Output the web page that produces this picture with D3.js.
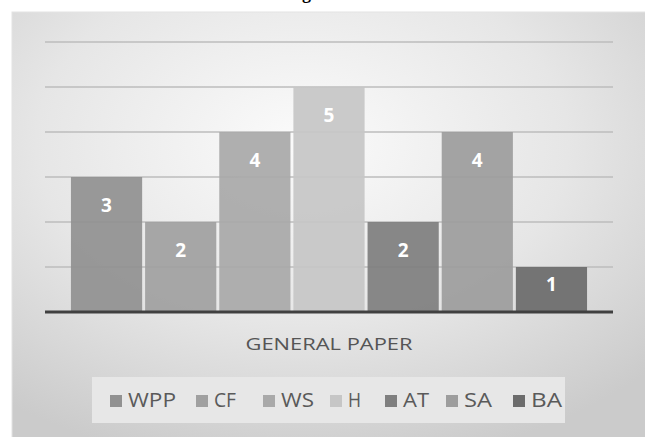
<!DOCTYPE html>
<html>
<head>
<meta charset="utf-8">
<script src="https://cdn.jsdelivr.net/npm/d3@7"></script>
<style>
  body { margin: 0; background: #fff; }
  svg { display: block; }
</style>
</head>
<body>
<script>
const width = 645,
      height = 437

// data
const categories = ['WPP', 'CF', 'WS', 'H', 'AT', 'SA', 'BA']
const values = [3, 2, 4, 5, 2, 4, 1]
const barColors = ['#919191', '#a0a0a0', '#a9a9a9', '#c6c6c6', '#7f7f7f', '#9d9d9d', '#6c6c6c']
const yTicks = [1, 2, 3, 4, 5, 6]
const axisTitle = 'GENERAL PAPER'

const svg = d3.select('body').append('svg')
    .attr('width', width)
    .attr('height', height)

const defs = svg.append('defs')
const grad = defs.append('radialGradient')
    .attr('id', 'bg')
    .attr('cx', '45%').attr('cy', '30%').attr('r', '75%')
grad.append('stop').attr('offset', '0%').attr('stop-color', '#fbfbfb')
grad.append('stop').attr('offset', '55%').attr('stop-color', '#e6e6e6')
grad.append('stop').attr('offset', '100%').attr('stop-color', '#cbcbcb')

// caption above the frame, cut off by the page edge as in the picture
svg.append('text')
    .attr('x', 286)
    .attr('y', -1)
    .text('Fig. 6')
    .style('font-family', 'Liberation Serif')
    .style('font-weight', 'bold')
    .style('font-size', '18px')
    .style('fill', '#000')

// chart frame
svg.append('rect')
    .attr('x', 12)
    .attr('y', 12)
    .attr('width', width)
    .attr('height', height)
    .style('fill', 'url(#bg)')
    .style('stroke', '#e4e4e4')

const x = d3.scaleBand()
    .domain(categories)
    .range([45, 613])
    .paddingInner(0.04)
    .paddingOuter(0.35)

const y = d3.scaleLinear()
    .domain([0, 6])
    .range([312, 42])

// gridlines
svg.selectAll('.grid')
    .data(yTicks)
    .enter()
    .append('line')
        .attr('class', 'grid')
        .attr('x1', 45)
        .attr('x2', 613)
        .attr('y1', d => y(d))
        .attr('y2', d => y(d))
        .style('stroke', '#bdbdbd')
        .style('stroke-width', 1.5)

// bars
svg.selectAll('.bar')
    .data(values)
    .enter()
    .append('rect')
        .attr('class', 'bar')
        .attr('x', (d, i) => x(categories[i]))
        .attr('y', d => y(d))
        .attr('width', x.bandwidth())
        .attr('height', d => y(0) - y(d))
        .style('fill', (d, i) => barColors[i])
        .style('fill-opacity', 0.93)

// value labels (inside end)
svg.selectAll('.lbl')
    .data(values)
    .enter()
    .append('text')
        .attr('class', 'lbl')
        .attr('x', (d, i) => x(categories[i]) + x.bandwidth() / 2)
        .attr('y', d => y(d) + Math.min(28, (y(0) - y(d)) * 0.38))
        .attr('dy', '0.35em')
        .attr('text-anchor', 'middle')
        .text(d => d)
        .style('font-family', 'Open Sans')
        .style('font-weight', 'bold')
        .style('font-size', '19px')
        .style('fill', '#fff')

// baseline
svg.append('line')
    .attr('x1', 45)
    .attr('x2', 613)
    .attr('y1', y(0))
    .attr('y2', y(0))
    .style('stroke', '#404040')
    .style('stroke-width', 3)

// axis title
svg.append('text')
    .attr('x', 329)
    .attr('y', 350)
    .attr('text-anchor', 'middle')
    .attr('textLength', 167)
    .attr('lengthAdjust', 'spacingAndGlyphs')
    .text(axisTitle)
    .style('font-family', 'Open Sans')
    .style('font-size', '17px')
    .style('fill', '#555')

// legend
svg.append('rect')
    .attr('x', 92)
    .attr('y', 377)
    .attr('width', 473)
    .attr('height', 46)
    .style('fill', '#e7e7e7')

const legendX = [110, 196, 263, 330, 385, 446, 513]
const textW = [48, 22, 33, 13, 26, 28, 31]

const items = svg.selectAll('.leg')
    .data(categories)
    .enter()
    .append('g')
        .attr('class', 'leg')
        .attr('transform', (d, i) => `translate(${legendX[i]},0)`)

items.append('rect')
    .attr('x', 0)
    .attr('y', 395)
    .attr('width', 12)
    .attr('height', 12)
    .style('fill', (d, i) => barColors[i])

items.append('text')
    .attr('x', 18)
    .attr('y', 407)
    .attr('textLength', (d, i) => textW[i])
    .attr('lengthAdjust', 'spacingAndGlyphs')
    .text(d => d)
    .style('font-family', 'Open Sans')
    .style('font-size', '20px')
    .style('fill', '#5a5a5a')
</script>
</body>
</html>
